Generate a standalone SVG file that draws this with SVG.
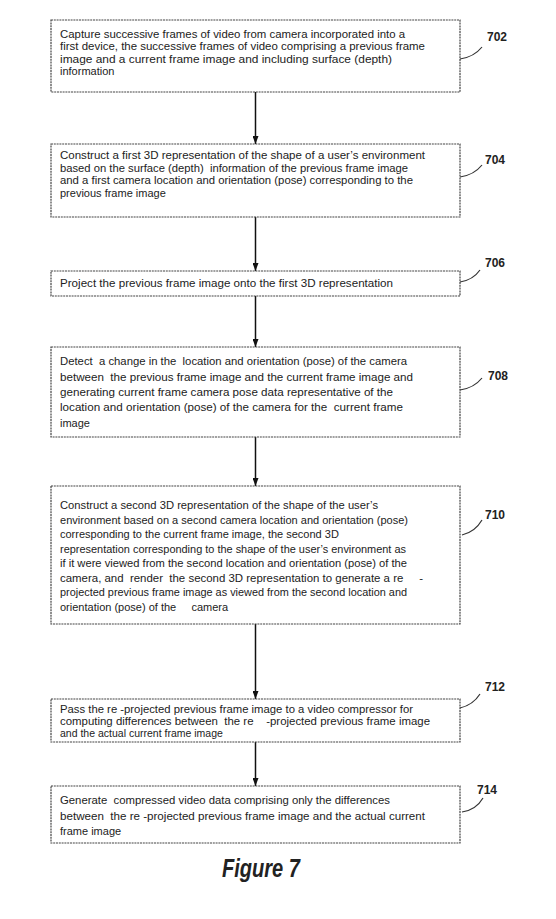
<svg xmlns="http://www.w3.org/2000/svg" width="556" height="919" viewBox="0 0 556 919">
<style>
text { white-space: pre; }
.t { font-family: "Liberation Sans", Arial, sans-serif; font-size: 11px; fill: #222; }
.s { font-size: 10.5px; }
.lbl { font-family: "Liberation Sans", Arial, sans-serif; font-size: 12px; font-weight: bold; fill: #222; }
.box { fill: #fff; stroke: #444; stroke-width: 1.2; stroke-dasharray: 2 0.8; }
.lead { fill: none; stroke: #333; stroke-width: 1.2; }
.conn { stroke: #111; stroke-width: 1.5; fill: none; }
.fig { font-family: "Liberation Sans", Arial, sans-serif; font-size: 25px; font-weight: bold; font-style: italic; fill: #222; }
</style>
<defs>
<marker id="ah" viewBox="0 0 8 6" refX="8" refY="3" markerWidth="8" markerHeight="6" markerUnits="userSpaceOnUse" orient="auto">
<path d="M0,0 L8,3 L0,6 z" fill="#111"/>
</marker>
</defs>
<rect width="556" height="919" fill="#fff"/>

<g id="connectors">
<line class="conn" x1="255.5" y1="92" x2="255.5" y2="144" marker-end="url(#ah)"/>
<line class="conn" x1="255.5" y1="217" x2="255.5" y2="271" marker-end="url(#ah)"/>
<line class="conn" x1="255.5" y1="296" x2="255.5" y2="347" marker-end="url(#ah)"/>
<line class="conn" x1="255.5" y1="437" x2="255.5" y2="486" marker-end="url(#ah)"/>
<line class="conn" x1="255.5" y1="624" x2="255.5" y2="699" marker-end="url(#ah)"/>
<line class="conn" x1="255.5" y1="742" x2="255.5" y2="786" marker-end="url(#ah)"/>
</g>

<g id="node702">
<rect class="box" x="51" y="20" width="409" height="72"/>
<text class="t" x="60" y="37.5" textLength="345" lengthAdjust="spacingAndGlyphs">Capture successive frames of video from camera incorporated into a</text>
<text class="t" x="60" y="50" textLength="365" lengthAdjust="spacingAndGlyphs">first device, the successive frames of video comprising a previous frame</text>
<text class="t" x="60" y="62.5" textLength="332" lengthAdjust="spacingAndGlyphs">image and a current frame image and including surface (depth)</text>
<text class="t" x="60" y="75">information</text>
<path class="lead" d="M460,59 Q474,57 482,47"/>
<text class="lbl" x="487" y="41">702</text>
</g>

<g id="node704">
<rect class="box" x="51" y="144" width="409" height="73"/>
<text class="t" x="60" y="159" textLength="365" lengthAdjust="spacingAndGlyphs">Construct a first 3D representation of the shape of a user’s environment</text>
<text class="t" x="60" y="171.5" textLength="348" lengthAdjust="spacingAndGlyphs">based on the surface (depth)  information of the previous frame image</text>
<text class="t" x="60" y="184" textLength="353" lengthAdjust="spacingAndGlyphs">and a first camera location and orientation (pose) corresponding to the</text>
<text class="t" x="60" y="196.5">previous frame image</text>
<path class="lead" d="M460,177 Q474,175 482,165"/>
<text class="lbl" x="485" y="164">704</text>
</g>

<g id="node706">
<rect class="box" x="51" y="271" width="409" height="25"/>
<text class="t" x="60" y="287" textLength="333" lengthAdjust="spacingAndGlyphs">Project the previous frame image onto the first 3D representation</text>
<path class="lead" d="M460,282 Q473,280 480,270"/>
<text class="lbl" x="485" y="267">706</text>
</g>

<g id="node708">
<rect class="box" x="51" y="347" width="409" height="90"/>
<text class="t" x="60" y="365" textLength="347" lengthAdjust="spacingAndGlyphs">Detect  a change in the  location and orientation (pose) of the camera</text>
<text class="t" x="60" y="380.5" textLength="353" lengthAdjust="spacingAndGlyphs">between  the previous frame image and the current frame image and</text>
<text class="t" x="60" y="396" textLength="333" lengthAdjust="spacingAndGlyphs">generating current frame camera pose data representative of the</text>
<text class="t" x="60" y="411" textLength="343" lengthAdjust="spacingAndGlyphs">location and orientation (pose) of the camera for the  current frame</text>
<text class="t" x="60" y="427">image</text>
<path class="lead" d="M460,390 Q474,388 482,378"/>
<text class="lbl" x="488" y="380">708</text>
</g>

<g id="node710">
<rect class="box" x="51" y="486" width="409" height="138"/>
<text class="t" x="60" y="509" textLength="318" lengthAdjust="spacingAndGlyphs">Construct a second 3D representation of the shape of the user’s</text>
<text class="t" x="60" y="523.5" textLength="348" lengthAdjust="spacingAndGlyphs">environment based on a second camera location and orientation (pose)</text>
<text class="t" x="60" y="538">corresponding to the current frame image, the second 3D</text>
<text class="t" x="60" y="552.5" textLength="346" lengthAdjust="spacingAndGlyphs">representation corresponding to the shape of the user’s environment as</text>
<text class="t" x="60" y="567" textLength="347" lengthAdjust="spacingAndGlyphs">if it were viewed from the second location and orientation (pose) of the</text>
<text class="t" x="60" y="581.5" textLength="363" lengthAdjust="spacingAndGlyphs">camera, and  render  the second 3D representation to generate a re     -</text>
<text class="t" x="60" y="596" textLength="347" lengthAdjust="spacingAndGlyphs">projected previous frame image as viewed from the second location and</text>
<text class="t" x="60" y="610.5">orientation (pose) of the     camera</text>
<path class="lead" d="M462,535 Q475,532 482,520"/>
<text class="lbl" x="485" y="519">710</text>
</g>

<g id="node712">
<rect class="box" x="51" y="699" width="409" height="43"/>
<text class="t s" x="60" y="713" textLength="353" lengthAdjust="spacingAndGlyphs">Pass the re -projected previous frame image to a video compressor for</text>
<text class="t s" x="60" y="725" textLength="370" lengthAdjust="spacingAndGlyphs">computing differences between  the re    -projected previous frame image</text>
<text class="t s" x="60" y="737">and the actual current frame image</text>
<path class="lead" d="M460,708 Q473,705 480,694"/>
<text class="lbl" x="485" y="691">712</text>
</g>

<g id="node714">
<rect class="box" x="51" y="786" width="409" height="57"/>
<text class="t" x="60" y="804" textLength="330" lengthAdjust="spacingAndGlyphs">Generate  compressed video data comprising only the differences</text>
<text class="t" x="60" y="819.5" textLength="365" lengthAdjust="spacingAndGlyphs">between  the re -projected previous frame image and the actual current</text>
<text class="t" x="60" y="835">frame image</text>
<path class="lead" d="M462,812 Q476,810 483,798"/>
<text class="lbl" x="477" y="794">714</text>
</g>

<text class="fig" x="222" y="877" textLength="78" lengthAdjust="spacingAndGlyphs">Figure 7</text>
</svg>
